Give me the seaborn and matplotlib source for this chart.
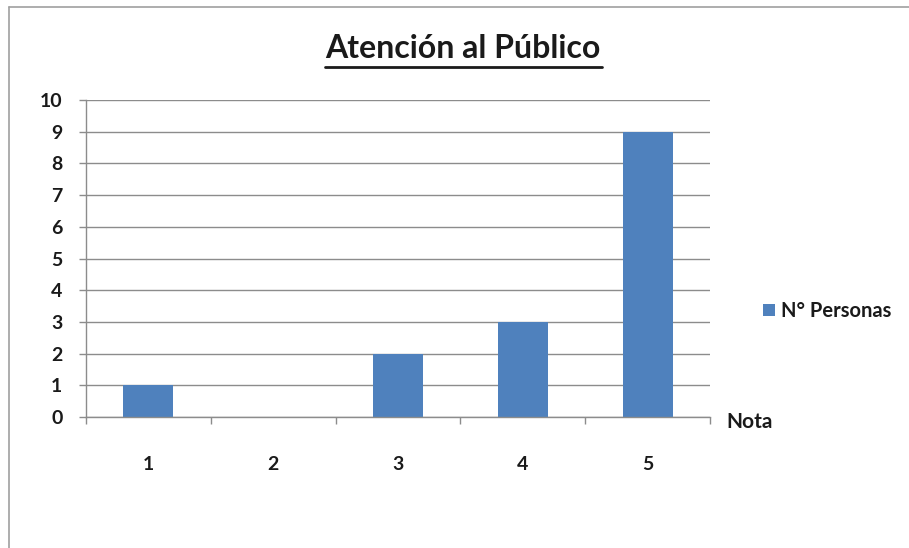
import matplotlib
matplotlib.use("Agg")
import matplotlib.pyplot as plt
from matplotlib.lines import Line2D
import seaborn as sns
import pandas as pd

categories = ["1", "2", "3", "4", "5"]
values = [1, 0, 2, 3, 9]
series_name = "N° Personas"
title = "Atención al Público"
y_ticks = list(range(0, 11))

df = pd.DataFrame({"Nota": categories, "value": values, "serie": series_name})

sns.set_theme(style="white")
plt.rcParams["font.family"] = ["Lato", "DejaVu Sans"]

W, H = 909, 548
fig = plt.figure(figsize=(W / 100, H / 100), dpi=100)
ax = fig.add_axes([86 / W, 1 - 417 / H, (710 - 86) / W, (417 - 100) / H])

sns.barplot(data=df, x="Nota", y="value", hue="serie", palette=["#4F81BD"],
            width=0.4, ax=ax, saturation=1, legend=True, linewidth=0)

ax.set_ylim(0, 10)
ax.set_xlim(-0.5, 4.5)
ax.set_yticks(y_ticks)
ax.yaxis.grid(True, color="#8c8c8c", linewidth=1)
ax.set_axisbelow(True)
for s in ["top", "right"]:
    ax.spines[s].set_visible(False)
for s in ["left", "bottom"]:
    ax.spines[s].set_color("#8c8c8c")
    ax.spines[s].set_linewidth(1)

ax.set_xticks([-0.5, 0.5, 1.5, 2.5, 3.5, 4.5], minor=True)
ax.tick_params(axis="x", which="minor", length=5, direction="out", color="#8c8c8c", width=1, bottom=True)
ax.tick_params(axis="x", which="major", length=0, pad=28, labelsize=14, labelcolor="#1a1a1a")
ax.tick_params(axis="y", which="major", length=5, direction="out", color="#8c8c8c", width=1,
               left=True, labelsize=14, labelcolor="#1a1a1a", pad=12)
for lbl in ax.get_xticklabels() + ax.get_yticklabels():
    lbl.set_fontweight("bold")
ax.set_xlabel("")
ax.set_ylabel("")

leg = ax.legend(loc="center left", bbox_to_anchor=(745 / W, 1 - 311 / H), bbox_transform=fig.transFigure,
                frameon=False, fontsize=14.5, handlelength=0.6, handleheight=0.6, handletextpad=0.3)
for t in leg.get_texts():
    t.set_fontweight("bold")
    t.set_color("#1a1a1a")

fig.text(726 / W, 1 - 422 / H, "Nota", fontsize=15, fontweight="bold", color="#1a1a1a",
         ha="left", va="center")

fig.text(463 / W, 1 - 48 / H, title, fontsize=23, fontweight="bold", color="#1a1a1a",
         ha="center", va="center")
fig.add_artist(Line2D([325 / W, 602 / W], [1 - 67 / H, 1 - 67 / H], color="#1a1a1a", linewidth=2,
                      transform=fig.transFigure))

fig.add_artist(Line2D([9 / W, 1], [1 - 7 / H, 1 - 7 / H], color="#a0a0a0", linewidth=1.2,
                      transform=fig.transFigure))
fig.add_artist(Line2D([9 / W, 9 / W], [0, 1 - 7 / H], color="#a0a0a0", linewidth=1.2,
                      transform=fig.transFigure))

fig.savefig("out.png", dpi=100, facecolor="white")
